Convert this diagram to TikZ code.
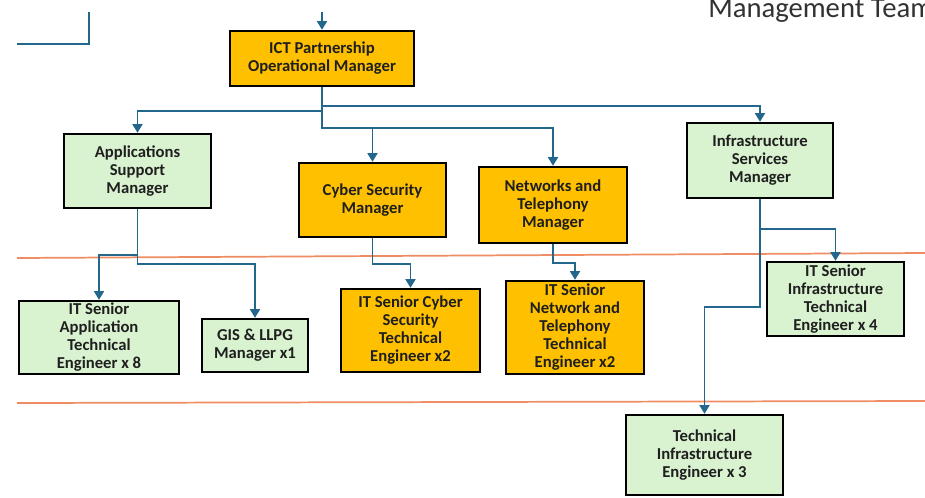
\documentclass[tikz,border=0pt]{standalone}
\usepackage{fontspec}
\setmainfont{Carlito}
\usetikzlibrary{arrows.meta}
\definecolor{boxorange}{HTML}{FFC000}
\definecolor{boxgreen}{HTML}{D9F2D0}
\definecolor{connblue}{RGB}{35,104,140}
\definecolor{bandline}{RGB}{238,140,100}
\definecolor{titlegray}{RGB}{50,50,50}
\begin{document}
\begin{tikzpicture}[x=0.75pt,y=-0.75pt,
  box/.style={draw=black, line width=1.8pt, align=center, inner sep=0pt,
    font=\bfseries\fontsize{12.5}{13.5}\selectfont, text=black!88},
  obox/.style={box, fill=boxorange},
  gbox/.style={box, fill=boxgreen},
  conn/.style={draw=connblue, line width=1.3pt},
  arr/.style={conn, -{Triangle[width=7.5pt,length=6.5pt]}},
  band/.style={draw=bandline, line width=1.3pt}]
\useasboundingbox (0,0) rectangle (925,497);
\clip (0,0) rectangle (925,497);

% title fragment
\node[anchor=base west, inner sep=0pt, font=\fontsize{21.5}{24}\selectfont, text=titlegray] (mgmt) at (708,17) {Management Team};

% band lines
\coordinate (b1l) at (17,258); \coordinate (b1r) at (925,253);
\coordinate (b2l) at (17,403); \coordinate (b2r) at (925,401);
\draw[band] (b1l) -- (b1r);
\draw[band] (b2l) -- (b2r);

% nodes
\node[obox, minimum width=138pt, minimum height=41.25pt] (ict) at (322,58.5) {ICT Partnership\\Operational Manager};
\node[gbox, minimum width=110.25pt, minimum height=55.5pt] (app) at (137.5,171) {Applications\\Support\\Manager};
\node[obox, minimum width=110.25pt, minimum height=55.5pt] (cyber) at (372.5,200) {Cyber Security\\Manager};
\node[obox, minimum width=111pt, minimum height=57pt] (net) at (553,205) {Networks and\\Telephony\\Manager};
\node[gbox, minimum width=109.5pt, minimum height=56.25pt] (infra) at (760,160.5) {Infrastructure\\Services\\Manager};
\node[gbox, minimum width=120pt, minimum height=54.75pt] (itapp) at (99,337.5) {IT Senior\\Application\\Technical\\Engineer x 8};
\node[gbox, minimum width=79.5pt, minimum height=39.75pt] (gis) at (255,345.5) {GIS \& LLPG\\Manager x1};
\node[obox, minimum width=104.25pt, minimum height=62.25pt] (itcyber) at (410.5,330.5) {IT Senior Cyber\\Security\\Technical\\Engineer x2};
\node[obox, minimum width=103.5pt, minimum height=69.75pt] (itnet) at (575,327.5) {IT Senior\\Network and\\Telephony\\Technical\\Engineer x2};
\node[gbox, minimum width=102.75pt, minimum height=55.5pt] (itinfra) at (835.5,299) {IT Senior\\Infrastructure\\Technical\\Engineer x 4};
\node[gbox, minimum width=117.75pt, minimum height=60pt] (techinfra) at (704.5,455) {Technical\\Infrastructure\\Engineer x 3};

% free ends
\coordinate (topin) at (322,12);
\coordinate (tl1) at (89,12);
\coordinate (tl2) at (17,44);

\draw[conn] (tl1) |- (tl2);
\draw[arr] (topin) -- (ict.north);

\draw[arr] (ict.south) -- (ict.south |- 0,106) -| (infra.north);
\draw[arr] (ict.south) -- (ict.south |- 0,111) -| (app.north);
\draw[arr] (ict.south) -- (ict.south |- 0,128) -| (cyber.north);
\draw[arr] (ict.south) -- (ict.south |- 0,128) -| (net.north);

\draw[arr] (app.south) -- (app.south |- 0,255) -| (itapp.north);
\draw[arr] (app.south) -- (app.south |- 0,264) -| (gis.north);
\draw[arr] (cyber.south) -- (cyber.south |- 0,264) -| (itcyber.north);
\draw[arr] (net.south) -- (net.south |- 0,263) -| (itnet.north);
\draw[arr] (infra.south) -- (infra.south |- 0,229) -| (itinfra.north);
\draw[arr] (infra.south) -- (infra.south |- 0,307) -| (techinfra.north);
\end{tikzpicture}
\end{document}
